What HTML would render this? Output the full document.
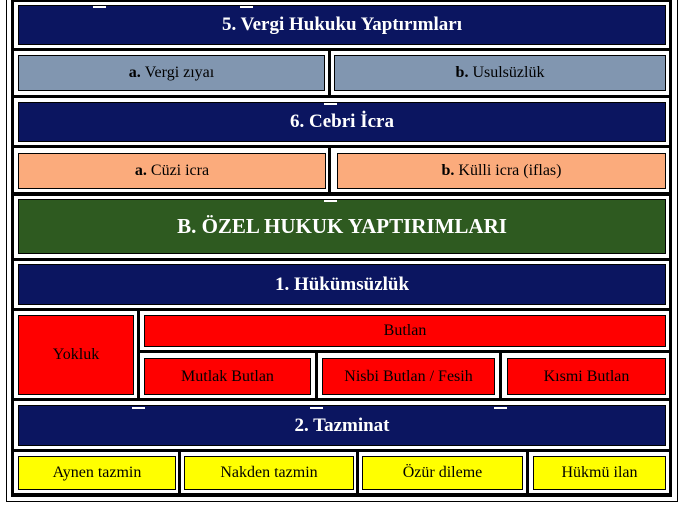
<!DOCTYPE html>
<html><head><meta charset="utf-8"><style>
*{margin:0;padding:0;box-sizing:border-box}
body{width:684px;height:508px;background:#fff;position:relative;overflow:hidden;font-family:"Liberation Serif","DejaVu Serif",serif}
div{position:absolute}
.w{background:#fff}
.c{border:1px solid #000;display:flex;align-items:center;justify-content:center;font-size:16px;color:#000;white-space:nowrap}
.n{background:#0b1560;color:#fff;font-weight:bold;font-size:19px}
.g{background:#8196b0}
.s{background:#fbab7c}
.r{background:#ff0000}
.y{background:#ffff00}
.d{background:#fff;height:2px;width:13px}
</style></head><body>
<div style="left:6px;top:0;width:672px;height:502px;border:1px solid #000;border-top:none"></div>
<div style="left:11px;top:0;width:661px;height:497px;background:#000"></div>
<div class="w" style="left:14px;top:2px;width:655px;height:46px"></div>
<div class="w" style="left:14px;top:51px;width:314px;height:44px"></div>
<div class="w" style="left:331px;top:51px;width:338px;height:44px"></div>
<div class="w" style="left:14px;top:98px;width:655px;height:47px"></div>
<div class="w" style="left:14px;top:148px;width:314px;height:44px"></div>
<div class="w" style="left:331px;top:148px;width:338px;height:44px"></div>
<div class="w" style="left:14px;top:196px;width:655px;height:62px"></div>
<div class="w" style="left:14px;top:261px;width:655px;height:47px"></div>
<div class="w" style="left:14px;top:311px;width:123px;height:87px"></div>
<div class="w" style="left:140px;top:311px;width:529px;height:39px"></div>
<div class="w" style="left:140px;top:353px;width:175px;height:45px"></div>
<div class="w" style="left:318px;top:353px;width:181px;height:45px"></div>
<div class="w" style="left:502px;top:353px;width:167px;height:45px"></div>
<div class="w" style="left:14px;top:401px;width:655px;height:48px"></div>
<div class="w" style="left:14px;top:452px;width:164px;height:41px"></div>
<div class="w" style="left:181px;top:452px;width:175px;height:41px"></div>
<div class="w" style="left:359px;top:452px;width:167px;height:41px"></div>
<div class="w" style="left:529px;top:452px;width:140px;height:41px"></div>
<div class="c n" style="left:18px;top:5px;width:648px;height:40px">5. Vergi Hukuku Yaptırımları</div>
<div class="c g" style="left:18px;top:55px;width:307px;height:36px"><b>a.</b>&nbsp;Vergi zıyaı</div>
<div class="c g" style="left:334px;top:55px;width:332px;height:36px"><b>b.</b>&nbsp;Usulsüzlük</div>
<div class="c n" style="left:18px;top:102px;width:648px;height:40px">6. Cebri İcra</div>
<div class="c s" style="left:18px;top:153px;width:308px;height:36px"><b>a.</b>&nbsp;Cüzi icra</div>
<div class="c s" style="left:337px;top:153px;width:329px;height:36px"><b>b.</b>&nbsp;Külli icra (iflas)</div>
<div class="c" style="left:18px;top:199px;width:648px;height:55px;background:#2e5a20;color:#fff;font-weight:bold;font-size:21px">B. ÖZEL HUKUK YAPTIRIMLARI</div>
<div class="c n" style="left:18px;top:264px;width:648px;height:41px">1. Hükümsüzlük</div>
<div class="c r" style="left:18px;top:315px;width:116px;height:80px">Yokluk</div>
<div class="c r" style="left:144px;top:315px;width:522px;height:32px">Butlan</div>
<div class="c r" style="left:144px;top:358px;width:167px;height:37px">Mutlak Butlan</div>
<div class="c r" style="left:322px;top:358px;width:173px;height:37px">Nisbi Butlan / Fesih</div>
<div class="c r" style="left:507px;top:358px;width:159px;height:37px">Kısmi Butlan</div>
<div class="c n" style="left:18px;top:405px;width:648px;height:41px">2. Tazminat</div>
<div class="c y" style="left:18px;top:456px;width:158px;height:34px">Aynen tazmin</div>
<div class="c y" style="left:184px;top:456px;width:170px;height:34px">Nakden tazmin</div>
<div class="c y" style="left:362px;top:456px;width:161px;height:34px">Özür dileme</div>
<div class="c y" style="left:533px;top:456px;width:133px;height:34px">Hükmü ilan</div>
<div class="d" style="left:93px;top:6px"></div>
<div class="d" style="left:240px;top:6px"></div>
<div class="d" style="left:324px;top:103px"></div>
<div class="d" style="left:324px;top:200px"></div>
<div class="d" style="left:132px;top:407px"></div>
<div class="d" style="left:310px;top:407px"></div>
<div class="d" style="left:494px;top:407px"></div>
</body></html>
